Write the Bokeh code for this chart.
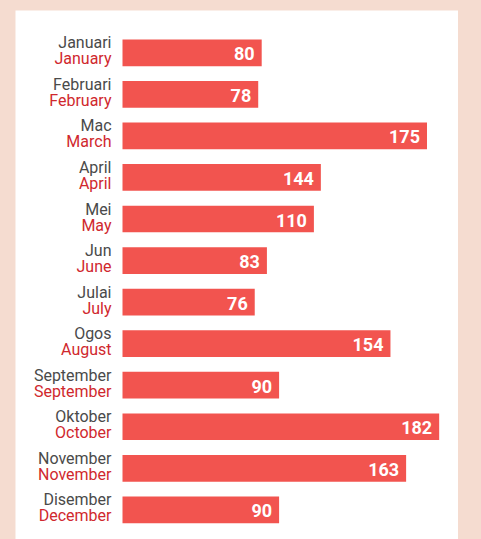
from bokeh.plotting import figure
from bokeh.models import ColumnDataSource, Range1d, GlobalInlineStyleSheet
from bokeh.core.properties import value
from bokeh.embed import file_html
from bokeh.resources import INLINE

malay = ["Januari", "Februari", "Mac", "April", "Mei", "Jun", "Julai", "Ogos",
         "September", "Oktober", "November", "Disember"]
english = ["January", "February", "March", "April", "May", "June", "July", "August",
           "September", "October", "November", "December"]
# bar lengths as drawn in the picture
bar_lengths = [80, 78, 175, 114, 110, 83, 76, 154, 90, 182, 163, 90]
# value labels as printed on the bars
value_labels = ["80", "78", "175", "144", "110", "83", "76", "154", "90", "182", "163", "90"]

rows = list(range(len(bar_lengths)))
src = ColumnDataSource(dict(y=rows, v=bar_lengths, ms=malay, en=english,
                            lab=value_labels, zero=[0] * len(bar_lengths)))

W, H = 443, 529
scale = 1.740
row_px = 41.55
xs = -107 / scale
ys = -42.3 / row_px

p = figure(width=W, height=H, output_backend="svg", toolbar_location=None,
           x_range=Range1d(xs, xs + W / scale),
           y_range=Range1d(ys + H / row_px, ys),
           min_border=0, min_border_left=0, min_border_right=0,
           min_border_top=0, min_border_bottom=0)
p.axis.visible = False
p.grid.visible = False
p.outline_line_color = None
p.background_fill_color = "white"
p.border_fill_color = "white"

p.hbar(y="y", left=0, right="v", height=26.7 / row_px, source=src,
       fill_color="#f2544f", line_color=None)

p.text(x="v", y="y", text="lab", source=src, x_offset=-7, y_offset=1,
       text_align="right", text_baseline="middle", text_color="white",
       text_font=value("Roboto"), text_font_style="bold", text_font_size="18px")

p.text(x="zero", y="y", text="ms", source=src, x_offset=-11, y_offset=-10,
       text_align="right", text_baseline="middle", text_color="#4a4a4a",
       text_font=value("Roboto"), text_font_size="16px")
p.text(x="zero", y="y", text="en", source=src, x_offset=-11, y_offset=6,
       text_align="right", text_baseline="middle", text_color="#d0282e",
       text_font=value("Roboto"), text_font_size="16px")

p.stylesheets = [GlobalInlineStyleSheet(
    css="html,body{background:#f5dcd0;margin:0;padding:0;overflow:hidden;}"
        "body{padding:10px 0 0 15px;}")]

open("out.html", "w").write(file_html(p, INLINE))
